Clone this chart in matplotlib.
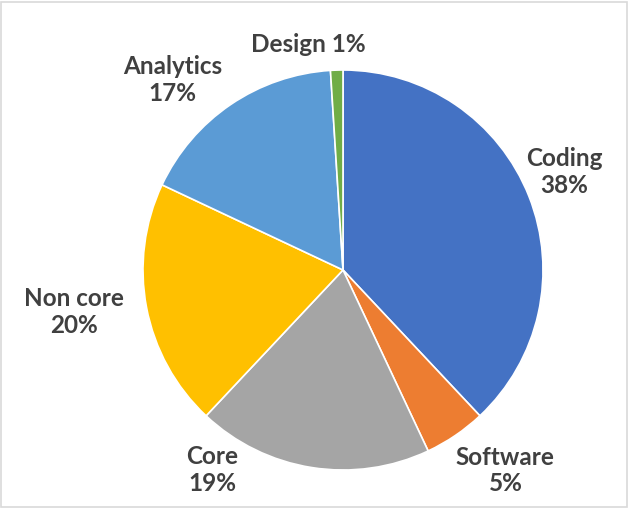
import matplotlib
matplotlib.use("Agg")
import matplotlib.pyplot as plt
import numpy as np
from matplotlib.patches import Rectangle

# data
categories = ["Coding", "Software", "Core", "Non core", "Analytics", "Design"]
shares = [38, 5, 19, 20, 17, 1]
colors = ["#4472C4", "#ED7D31", "#A5A5A5", "#FFC000", "#5B9BD5", "#70AD47"]

# label placement: (angle shift from wedge middle in degrees, radius in pie radii)
label_shift = [2.3, 4.8, -24.2, -1.9, 7.7, 7.0]
label_radius = [1.21, 1.29, 1.195, 1.36, 1.277, 1.14]
one_line = [False, False, False, False, False, True]

W, H = 629, 508
cx, cy, R = 343, 270, 200  # pixel centre / radius of the pie

fig = plt.figure(figsize=(W / 100, H / 100), dpi=100)
fig.patch.set_facecolor("white")
ax = fig.add_axes([0, 0, 1, 1])

wedges, _ = ax.pie(shares, colors=colors, startangle=90, counterclock=False,
                   radius=1.0, center=(0, 0),
                   wedgeprops=dict(edgecolor="white", linewidth=1.2))

# pie() resets limits, so set them afterwards
ax.set_aspect("auto")
ax.set_xlim(-cx / R, (W - cx) / R)
ax.set_ylim(-(H - cy) / R, cy / R)
ax.axis("off")

for w, name, val, dth, r, single in zip(wedges, categories, shares,
                                        label_shift, label_radius, one_line):
    mid = np.deg2rad((w.theta1 + w.theta2) / 2 + dth)
    x, y = r * np.cos(mid), r * np.sin(mid)
    txt = f"{name} {val}%" if single else f"{name}\n{val}%"
    ax.text(x, y, txt, ha="center", va="center", fontsize=17.5,
            fontweight="bold", color="#404040", family=["Lato", "DejaVu Sans"],
            linespacing=1.2)

# chart border
fig.patches.append(Rectangle((0.002, 0.002), 0.995, 0.994, transform=fig.transFigure,
                             fill=False, edgecolor="#D9D9D9", linewidth=1.2))

fig.savefig("out.png", dpi=100, facecolor="white")
plt.close(fig)
